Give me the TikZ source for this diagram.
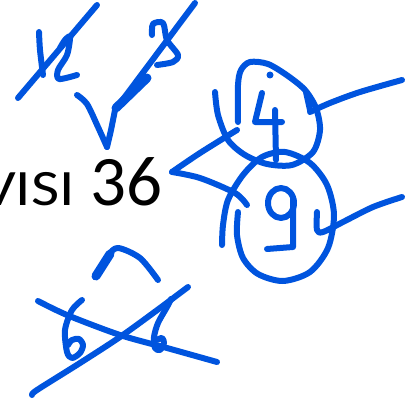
\documentclass[tikz,border=0pt]{standalone}
\usepackage{fontspec}
\setmainfont{Carlito}
\definecolor{ink}{RGB}{0,84,222}
\begin{document}
\begin{tikzpicture}[x=1pt,y=-1pt,
  pen/.style={draw=ink,line width=6pt,line cap=round,line join=round},
  thickpen/.style={pen,line width=9pt}]
\useasboundingbox (0,0) rectangle (410,404);
% printed text
\node[anchor=base west,inner sep=0,font=\fontsize{71}{71}\selectfont] (num) at (90,205) {36};
\node[anchor=base east,inner sep=0,xscale=1.2,font=\fontsize{51}{51}\selectfont] (visi) at (75,205) {VISI};
% top left "12" crossed out
\draw[pen] plot[smooth] coordinates {(39,32) (40,50) (43,75)};
\draw[pen] plot[smooth] coordinates {(60,48) (65,40) (70,37) (67,55) (58,70) (59,79) (77,75)};
\draw[pen] (18,98) -- (97,5);
% top right digit crossed out
\draw[pen] plot[smooth] coordinates {(152,35) (153,24) (163,23) (167,40) (178,55) (173,62) (157,65)};
\draw[pen] (115,110) -- (195,3);
\draw[thickpen] (116,108) -- (147,78);
% check mark
\draw[pen] plot[smooth] coordinates {(77,95) (87,104) (98,127) (107,147)};
\draw[pen] plot[smooth] coordinates {(107,147) (111,130) (115,110)};
% branches from 36
\draw[pen] plot[smooth] coordinates {(172,172) (200,153) (237,130)};
\draw[pen] plot[smooth] coordinates {(172,172) (200,178) (235,193) (247,205)};
% oval around 4
\draw[pen] plot[smooth] coordinates {(215,92) (218,115) (228,140) (245,155) (267,164) (292,165) (313,152) (320,130) (316,108) (305,90) (288,76) (268,64) (250,62) (241,70) (238,85) (238,122)};
\draw[pen] (306,92) -- (310,110);
\fill[ink] (270,75) circle (3.5pt);
% digit 4
\draw[pen] (262,93) -- (255,122) -- (282,122);
\draw[pen] (275,110) -- (276,160);
\draw[pen] plot[smooth] coordinates {(310,112) (330,103) (360,92) (402,80)};
% circle around 9
\draw[pen] plot[smooth] coordinates {(238,212) (237,235) (243,258) (258,274) (283,281) (310,272) (328,248) (334,215) (327,185) (310,163) (285,152) (262,157) (243,175) (228,200) (223,225) (222,245)};
% digit 9
\draw[pen] (281,203) ellipse [x radius=13pt, y radius=15pt];
\draw[pen] (293,198) -- (293,247) -- (267,249);
\draw[pen] plot[smooth] coordinates {(317,212) (317,230) (323,232) (343,222) (373,207) (402,197)};
% caret
\draw[pen] plot[smooth] coordinates {(95,277) (108,256) (118,248) (140,258) (158,280)};
\draw[thickpen] (96,276) -- (110,254);
% crossed 6 6
\draw[pen] plot[smooth] coordinates {(38,301) (67,315) (120,335) (167,348) (217,362)};
\draw[pen] plot[smooth] coordinates {(32,395) (37,390) (80,363) (120,337) (160,308) (188,287)};
\draw[pen] plot[smooth] coordinates {(82,300) (72,310) (65,330) (67,352) (72,358) (80,353) (83,345) (79,339) (72,340) (68,345)};
\draw[pen] plot[smooth] coordinates {(171,299) (167,307) (158,323) (154,337) (155,348) (160,350) (164,343) (162,338) (157,340)};
\end{tikzpicture}
\end{document}
